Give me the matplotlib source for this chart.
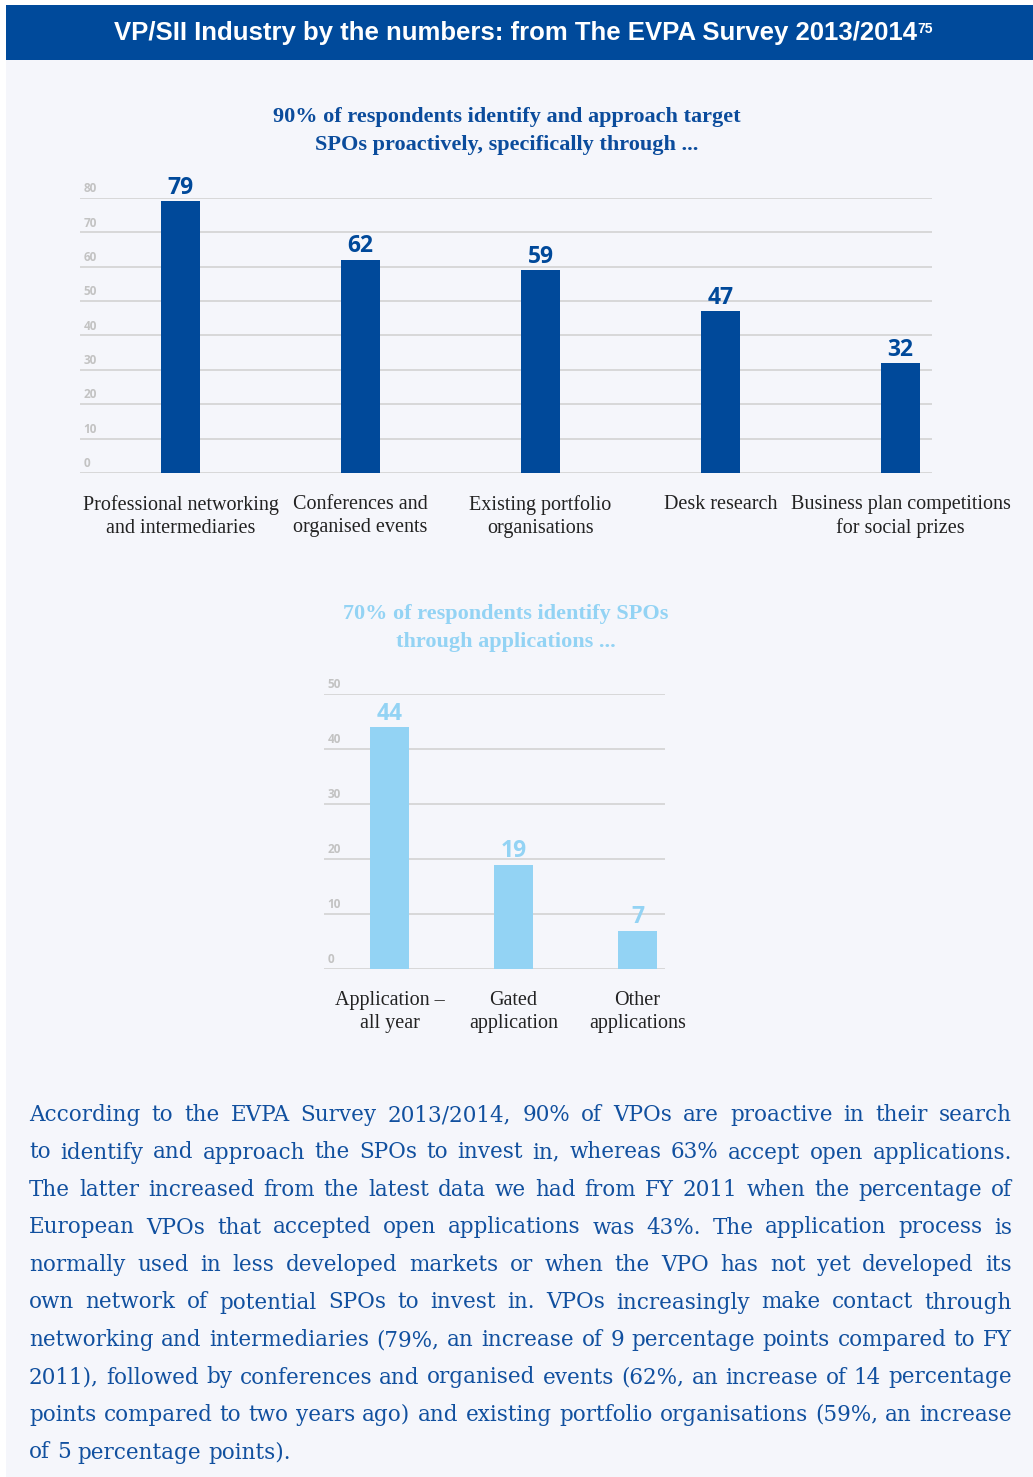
import matplotlib
matplotlib.use("Agg")
import matplotlib.pyplot as plt
from matplotlib.patches import Rectangle
from matplotlib import transforms

W, H = 1033, 1477
DARK = "#00499a"
LIGHT = "#93d3f4"
BG = "#f5f6fb"
GRID = "#d3d3d3"
TICK = "#c3c3c3"

# data
proactive_labels = ["Professional networking\nand intermediaries",
                    "Conferences and\norganised events",
                    "Existing portfolio\norganisations",
                    "Desk research",
                    "Business plan competitions\nfor social prizes"]
proactive_values = [79, 62, 59, 47, 32]
proactive_ticks = [0, 10, 20, 30, 40, 50, 60, 70, 80]

applic_labels = ["Application –\nall year", "Gated\napplication", "Other\napplications"]
applic_values = [44, 19, 7]
applic_ticks = [0, 10, 20, 30, 40, 50]

body_lines = [
    "According to the EVPA Survey 2013/2014, 90% of VPOs are proactive in their search",
    "to identify and approach the SPOs to invest in, whereas 63% accept open applications.",
    "The latter increased from the latest data we had from FY 2011 when the percentage of",
    "European VPOs that accepted open applications was 43%. The application process is",
    "normally used in less developed markets or when the VPO has not yet developed its",
    "own network of potential SPOs to invest in. VPOs increasingly make contact through",
    "networking and intermediaries (79%, an increase of 9 percentage points compared to FY",
    "2011), followed by conferences and organised events (62%, an increase of 14 percentage",
    "points compared to two years ago) and existing portfolio organisations (59%, an increase",
    "of 5 percentage points).",
]

SERIF = ["Liberation Serif", "DejaVu Serif"]
BODY = ["DejaVu Serif"]
SANS = ["Open Sans", "DejaVu Sans"]


def fx(x):
    return x / W


def fy(y):
    return 1 - y / H


fig = plt.figure(figsize=(W / 100, H / 100), dpi=100, facecolor="white")
fig.patches.append(Rectangle((fx(6), 0), 1 - fx(6), fy(60), transform=fig.transFigure,
                             facecolor=BG, edgecolor="none", zorder=-5))
fig.patches.append(Rectangle((fx(6), fy(60)), 1 - fx(6), 55 / H, transform=fig.transFigure,
                             facecolor="#004a9b", edgecolor="none", zorder=-4))
renderer = fig.canvas.get_renderer()

# header
head = fig.text(fx(515), fy(33), "VP/SII Industry by the numbers: from The EVPA Survey 2013/2014",
                color="white", fontsize=18.5, fontweight="bold",
                family=["Liberation Sans Narrow", "Liberation Sans", "DejaVu Sans"],
                ha="center", va="center")
bb = head.get_window_extent(renderer)
fig.text((bb.x1 + 1) / W, (bb.y1 - 1) / H, "75", color="white", fontsize=10, fontweight="bold",
         family=["Liberation Sans Narrow", "Liberation Sans", "DejaVu Sans"], ha="left", va="top")


def bar_chart(left, right, top, bottom, labels, values, ticks, color, center0, step, barw, pad):
    ax = fig.add_axes([fx(left), fy(bottom), fx(right) - fx(left), fy(top) - fy(bottom)])
    ax.set_facecolor("none")
    x = list(range(len(values)))
    ax.bar(x, values, width=barw / step, color=color, zorder=3)
    ax.set_ylim(0, ticks[-1])
    ax.set_xlim((left - center0) / step, (right - center0) / step)
    for t in ticks:
        ax.axhline(t, color=GRID, lw=1.2, zorder=1)
    tr = transforms.blended_transform_factory(ax.transAxes, ax.transData)
    for t in ticks:
        ax.annotate(str(t), (0, t), xycoords=tr, xytext=(2.5, 2), textcoords="offset points",
                    fontsize=8.5, fontweight="bold", color=TICK, family=SANS, ha="left", va="bottom")
    for xi, v in zip(x, values):
        ax.annotate(str(v), (xi, v), xytext=(0, 1), textcoords="offset points",
                    ha="center", va="bottom", fontsize=16.5, fontweight="bold",
                    color=color, family=SANS, zorder=4)
    ax.set_xticks(x)
    ax.set_xticklabels(labels, family=SERIF, fontsize=14.5, color="#222222", linespacing=1.25)
    ax.tick_params(axis="x", length=0, pad=pad)
    ax.set_yticks([])
    for s in ax.spines.values():
        s.set_visible(False)
    return ax


bar_chart(80, 932, 198, 473, proactive_labels, proactive_values, proactive_ticks,
          DARK, 180.5, 180, 39, 16)
bar_chart(324, 665, 694, 969, applic_labels, applic_values, applic_ticks,
          LIGHT, 389.5, 124, 39, 16)

fig.text(fx(507), fy(131), "90% of respondents identify and approach target\nSPOs proactively, specifically through ...",
         ha="center", va="center", family=SERIF, fontsize=16, fontweight="bold", color="#0b4c9c",
         linespacing=1.5)
fig.text(fx(506), fy(628), "70% of respondents identify SPOs\nthrough applications ...",
         ha="center", va="center", family=SERIF, fontsize=16, fontweight="bold", color=LIGHT,
         linespacing=1.5)

# body paragraph, justified by hand
x0, x1 = 29, 1012
base0, lead = 1121, 37.5
BODY_SIZE = 15.5
sp = fig.text(0, 0, "a a", family=BODY, fontsize=BODY_SIZE)
sa = fig.text(0, 0, "aa", family=BODY, fontsize=BODY_SIZE)
space_w = sp.get_window_extent(renderer).width - sa.get_window_extent(renderer).width
sp.remove()
sa.remove()
for i, line in enumerate(body_lines):
    words = line.split()
    yb = fy(base0 + i * lead)
    txts = [fig.text(0, yb, w, family=BODY, fontsize=BODY_SIZE, color="#11509f", va="baseline")
            for w in words]
    widths = [t.get_window_extent(renderer).width for t in txts]
    last = i == len(body_lines) - 1
    gap = space_w if last else (x1 - x0 - sum(widths)) / (len(words) - 1)
    xc = x0
    for t, w in zip(txts, widths):
        t.set_x(fx(xc))
        xc += w + gap

fig.savefig("out.png", dpi=100, facecolor=fig.get_facecolor())
